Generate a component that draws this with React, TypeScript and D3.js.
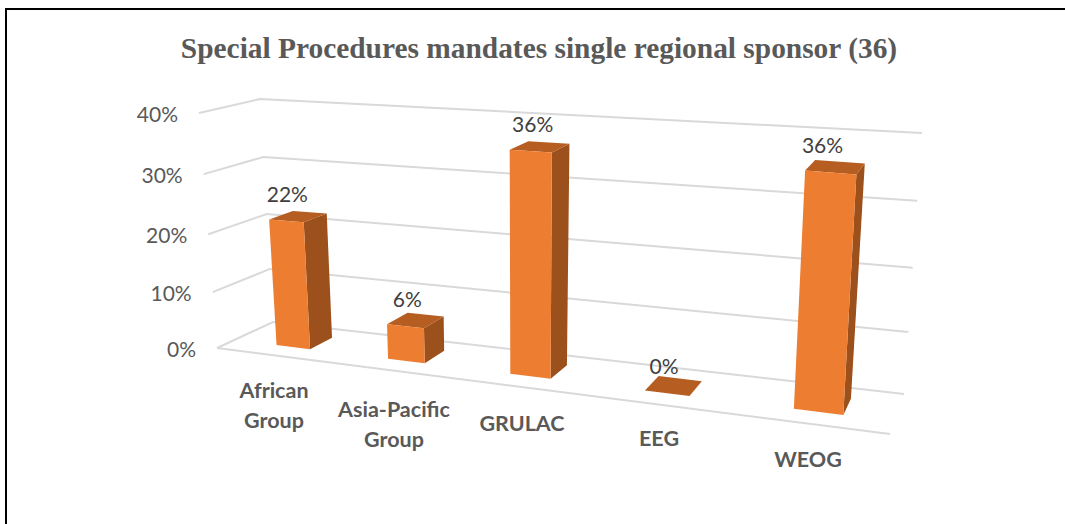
import React from 'react'
import * as d3 from 'd3'

const categories = ['African Group', 'Asia-Pacific Group', 'GRULAC', 'EEG', 'WEOG']
const shares = [0.22, 0.06, 0.36, 0, 0.36]
const shareTicks = [0, 0.1, 0.2, 0.3, 0.4]
const chartTitle = 'Special Procedures mandates single regional sponsor (36)'

type Pt = [number, number]

// floor of the 3d box as it lands on the page: front left, front right, back right, back left
const floorQuad: Pt[] = [[217, 348], [890, 434], [904, 394], [273, 322]]
// how far the 40% level sits from the floor at those same corners
const liftQuad: Pt[] = [[-18, -235], [16, -275], [18, -261], [-13, -223]]
// the levels bunch up slightly towards the floor
const liftSteps = [0, 0.238, 0.484, 0.74, 1]

const barDepth = {front: 0.3, back: 0.72}

// category label placement, the wrapped lines sit by hand like in the original
const catLabels = [
  {lines: ['African', 'Group'], x: 274, y: 398},
  {lines: ['Asia-Pacific', 'Group'], x: 394, y: 417},
  {lines: ['GRULAC'], x: 522, y: 431},
  {lines: ['EEG'], x: 659, y: 446},
  {lines: ['WEOG'], x: 808, y: 467}
]
const valueNudge = [1, 2, 2, -3, -8]

// unit square -> quad (perspective)
function quadMap(q: Pt[]) {
  const [[x0, y0], [x1, y1], [x2, y2], [x3, y3]] = q
  const dx1 = x1 - x2
  const dx2 = x3 - x2
  const sx = x0 - x1 + x2 - x3
  const dy1 = y1 - y2
  const dy2 = y3 - y2
  const sy = y0 - y1 + y2 - y3
  const den = dx1 * dy2 - dx2 * dy1
  const g = (sx * dy2 - dx2 * sy) / den
  const h = (dx1 * sy - sx * dy1) / den
  const a = x1 - x0 + g * x1
  const b = x3 - x0 + h * x3
  const d = y1 - y0 + g * y1
  const e = y3 - y0 + h * y3
  return (u: number, w: number): Pt => {
    const k = g * u + h * w + 1
    return [(a * u + b * w + x0) / k, (d * u + e * w + y0) / k]
  }
}

const floorAt = quadMap(floorQuad)
const heightScale = d3.scaleLinear().domain(shareTicks).range(liftSteps)

function liftAt(u: number, w: number): Pt {
  const mix = (i: number) =>
    (1 - w) * ((1 - u) * liftQuad[0][i] + u * liftQuad[1][i]) +
    w * ((1 - u) * liftQuad[3][i] + u * liftQuad[2][i])
  return [mix(0), mix(1)]
}

// u across the categories, v the share, w the depth (0 front, 1 back)
function project(u: number, v: number, w: number): Pt {
  const t = heightScale(v)
  const p = floorAt(u, w)
  const l = liftAt(u, w)
  return [p[0] + l[0] * t, p[1] + l[1] * t]
}

const xBand = d3
  .scaleBand<string>()
  .domain(categories)
  .range([0.011, 1.007])
  .paddingInner(0.69)
  .paddingOuter(0.345)

const path = (pts: Pt[]) => d3.line()(pts) + 'Z'

export default function App() {
  const font = 'Lato, sans-serif'
  return (
    <svg
      width={1065}
      height={524}
      style={{position: 'absolute', left: 0, top: 0, background: '#fff'}}
    >
      <path d="M6,524V9H1065" fill="none" stroke="#000" strokeWidth={2} />
      <text
        x={539}
        y={58}
        textAnchor="middle"
        fontFamily='"Liberation Serif", serif'
        fontWeight="bold"
        fontSize={29.4}
        fill="#595959"
      >
        {chartTitle}
      </text>

      {shareTicks.map(t => (
        <path
          key={t}
          d={d3.line()([project(0, t, 0), project(0, t, 1), project(1, t, 1)]) || ''}
          fill="none"
          stroke="#d9d9d9"
          strokeWidth={2}
        />
      ))}
      <path
        d={d3.line()([project(0, 0, 0), project(1, 0, 0)]) || ''}
        fill="none"
        stroke="#d9d9d9"
        strokeWidth={2}
      />
      {shareTicks.map(t => {
        const [x, y] = project(0, t, 0)
        return (
          <text
            key={t}
            x={x - 21}
            y={y + 9}
            textAnchor="end"
            fontFamily={font}
            fontSize={21}
            fill="#595959"
          >
            {d3.format('.0%')(t)}
          </text>
        )
      })}

      {categories.map((c, i) => {
        const u0 = xBand(c) as number
        const u1 = u0 + xBand.bandwidth()
        const v = shares[i]
        const {front, back} = barDepth
        const [lx, ly] = project((u0 + u1) / 2, v, front)
        return (
          <g key={c}>
            <path
              d={path([project(u1, 0, front), project(u1, 0, back), project(u1, v, back), project(u1, v, front)])}
              fill="#9c501c"
            />
            <path
              d={path([project(u0, v, front), project(u1, v, front), project(u1, v, back), project(u0, v, back)])}
              fill="#b65e22"
            />
            <path
              d={path([project(u0, 0, front), project(u1, 0, front), project(u1, v, front), project(u0, v, front)])}
              fill="#ed7d31"
            />
            <text
              x={lx + valueNudge[i]}
              y={ly - 19}
              textAnchor="middle"
              fontFamily={font}
              fontSize={21}
              fill="#404040"
            >
              {d3.format('.0%')(v)}
            </text>
          </g>
        )
      })}

      {catLabels.map(l => (
        <text
          key={l.lines[0]}
          textAnchor="middle"
          fontFamily={font}
          fontWeight="bold"
          fontSize={21.5}
          fill="#595959"
        >
          {l.lines.map((s, i) => (
            <tspan key={s} x={l.x} y={l.y + i * 29.5}>
              {s}
            </tspan>
          ))}
        </text>
      ))}
    </svg>
  )
}
